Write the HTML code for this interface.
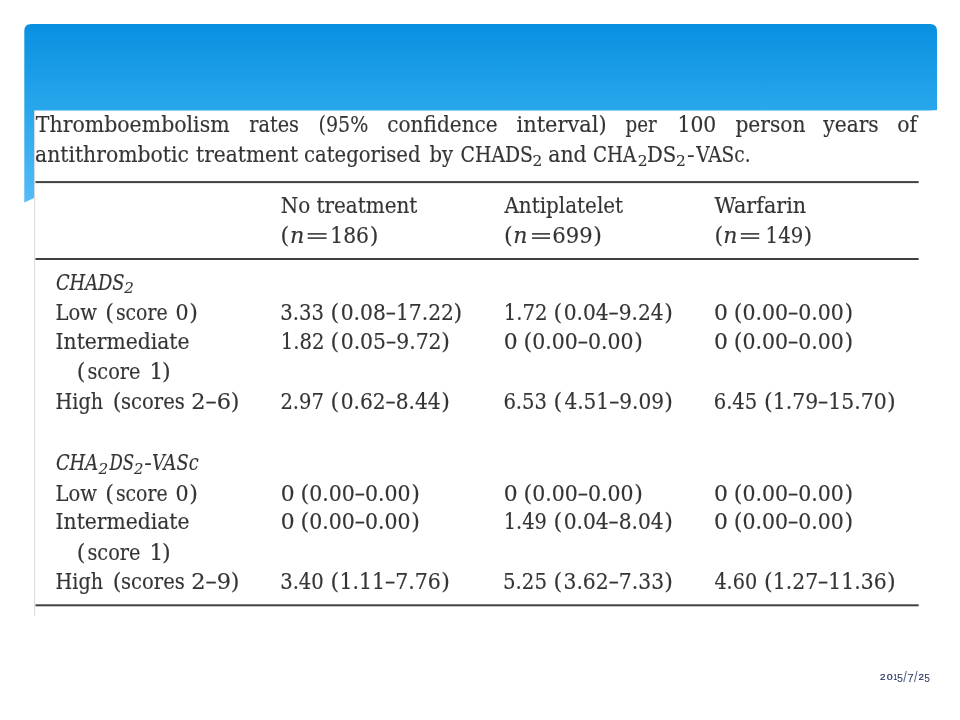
<!DOCTYPE html>
<html lang="en"><head><meta charset="utf-8"><title>Thromboembolism rates</title>
<style>
html,body{margin:0;padding:0;background:#fff;width:960px;height:720px;overflow:hidden}
svg{display:block;position:absolute;left:0;top:0}
.tbl text{font-family:"DejaVu Serif","Liberation Serif",serif;font-stretch:condensed;fill:#343434;stroke:#343434;stroke-width:0.15px}
.tbl .eq{stroke:none;fill:#4a4a4a}
.tbl{filter:blur(0.4px)}
.tbl .i{font-style:italic}
.date{font-family:"Liberation Sans",sans-serif;fill:#1f2d5a}.date .s{stroke:#1f2d5a;stroke-width:0.2px}.date .l{fill:#56638a}
</style></head><body>
<svg width="960" height="720" viewBox="0 0 960 720">
<defs>
<linearGradient id="g" gradientUnits="userSpaceOnUse" x1="0" y1="24" x2="0" y2="203">
<stop offset="0" stop-color="#0890e0"/><stop offset="0.48" stop-color="#29a7ec"/><stop offset="1" stop-color="#54bcf8"/>
</linearGradient>
</defs>
<rect width="960" height="720" fill="#fff"/>
<path d="M24.3 31 Q24.3 24 31.3 24 L930 24 Q937 24 937 31 L937 110.3 L34 198 L24.3 202.5 Z" fill="url(#g)"/>
<rect x="34.4" y="110.5" width="906" height="505.5" fill="#fff"/>
<rect x="34.2" y="110.5" width="1" height="505.5" fill="#d9d9d9"/>
<g fill="#404040">
<rect x="35.5" y="181.1" width="883.2" height="2"/>
<rect x="35.5" y="258.0" width="883.2" height="2"/>
<rect x="35.5" y="604.3" width="883.2" height="2"/>
</g>
<g class="tbl">
<text font-size="22.5"><tspan y="131.8" x="35.8" textLength="193.8" lengthAdjust="spacingAndGlyphs">Thromboembolism</tspan> <tspan y="131.8" x="249.3" textLength="49.7" lengthAdjust="spacingAndGlyphs">rates</tspan> <tspan y="131.8" x="318.5" textLength="49.9" lengthAdjust="spacingAndGlyphs">(95%</tspan> <tspan y="131.8" x="387.3" textLength="110.4" lengthAdjust="spacingAndGlyphs">confidence</tspan> <tspan y="131.8" x="516.5" textLength="90.1" lengthAdjust="spacingAndGlyphs">interval)</tspan> <tspan y="131.8" x="625.5" textLength="31.2" lengthAdjust="spacingAndGlyphs">per</tspan> <tspan y="131.8" x="677.5" textLength="38.8" lengthAdjust="spacingAndGlyphs">100</tspan> <tspan y="131.8" x="735.4" textLength="70.1" lengthAdjust="spacingAndGlyphs">person</tspan> <tspan y="131.8" x="823.3" textLength="55.4" lengthAdjust="spacingAndGlyphs">years</tspan> <tspan y="131.8" x="897.3" textLength="19.8" lengthAdjust="spacingAndGlyphs">of</tspan></text>
<text font-size="22.5"><tspan y="162.3" x="35.0" textLength="153.9" lengthAdjust="spacingAndGlyphs">antithrombotic</tspan> <tspan y="162.3" x="196.1" textLength="102.0" lengthAdjust="spacingAndGlyphs">treatment</tspan> <tspan y="162.3" x="304.0" textLength="116.5" lengthAdjust="spacingAndGlyphs">categorised</tspan> <tspan y="162.3" x="429.4" textLength="23.6" lengthAdjust="spacingAndGlyphs">by</tspan> <tspan y="162.3" x="460.6" textLength="72.4" lengthAdjust="spacingAndGlyphs">CHADS</tspan><tspan y="165.8" x="532.4" textLength="9.8" lengthAdjust="spacingAndGlyphs" font-size="15.3">2</tspan> <tspan y="162.3" x="548.3" textLength="38.3" lengthAdjust="spacingAndGlyphs">and</tspan> <tspan y="162.3" x="593.0" textLength="43.1" lengthAdjust="spacingAndGlyphs">CHA</tspan><tspan y="165.8" x="637.8" textLength="9.8" lengthAdjust="spacingAndGlyphs" font-size="15.3">2</tspan><tspan y="162.3" x="646.9" textLength="29.2" lengthAdjust="spacingAndGlyphs">DS</tspan><tspan y="165.8" x="676.1" textLength="9.8" lengthAdjust="spacingAndGlyphs" font-size="15.3">2</tspan><tspan y="162.3" x="686.9" textLength="7.7" lengthAdjust="spacingAndGlyphs">-</tspan><tspan y="162.3" x="696.2" textLength="54.4" lengthAdjust="spacingAndGlyphs">VASc.</tspan></text>
<text x="280.7" y="213.2" textLength="136.7" lengthAdjust="spacingAndGlyphs" font-size="22.2">No treatment</text>
<text x="504.4" y="213.2" textLength="118.7" lengthAdjust="spacingAndGlyphs" font-size="22.2">Antiplatelet</text>
<text x="714.6" y="213.2" textLength="91.6" lengthAdjust="spacingAndGlyphs" font-size="22.2">Warfarin</text>
<text y="243.3" font-size="22.2"><tspan x="280.6" textLength="8.7" lengthAdjust="spacingAndGlyphs">(</tspan><tspan x="290.1" textLength="14.4" lengthAdjust="spacingAndGlyphs" class="i">n</tspan> <tspan x="304.4" textLength="25.3" lengthAdjust="spacingAndGlyphs" class="eq">=</tspan> <tspan x="330.3" textLength="38.7" lengthAdjust="spacingAndGlyphs">186</tspan><tspan x="369.8" textLength="8.7" lengthAdjust="spacingAndGlyphs">)</tspan></text>
<text y="243.3" font-size="22.2"><tspan x="504.0" textLength="8.7" lengthAdjust="spacingAndGlyphs">(</tspan><tspan x="513.2" textLength="14.2" lengthAdjust="spacingAndGlyphs" class="i">n</tspan> <tspan x="529.0" textLength="24.1" lengthAdjust="spacingAndGlyphs" class="eq">=</tspan> <tspan x="552.3" textLength="40.4" lengthAdjust="spacingAndGlyphs">699</tspan><tspan x="593.2" textLength="8.7" lengthAdjust="spacingAndGlyphs">)</tspan></text>
<text y="243.3" font-size="22.2"><tspan x="714.4" textLength="8.7" lengthAdjust="spacingAndGlyphs">(</tspan><tspan x="723.2" textLength="14.2" lengthAdjust="spacingAndGlyphs" class="i">n</tspan> <tspan x="737.7" textLength="24.6" lengthAdjust="spacingAndGlyphs" class="eq">=</tspan> <tspan x="765.6" textLength="37.7" lengthAdjust="spacingAndGlyphs">149</tspan><tspan x="803.6" textLength="8.7" lengthAdjust="spacingAndGlyphs">)</tspan></text>
<text font-size="22.2"><tspan y="289.8" x="55.9" textLength="68.7" lengthAdjust="spacingAndGlyphs" class="i">CHADS</tspan><tspan y="293.3" x="124.3" textLength="9.6" lengthAdjust="spacingAndGlyphs" font-size="15.1" class="i">2</tspan></text>
<text font-size="22.2"><tspan y="320.3" x="55.6" textLength="41.5" lengthAdjust="spacingAndGlyphs">Low</tspan> <tspan y="320.3" x="105.3" textLength="8.7" lengthAdjust="spacingAndGlyphs">(</tspan><tspan y="320.3" x="115.9" textLength="51.7" lengthAdjust="spacingAndGlyphs">score</tspan> <tspan y="320.3" x="175.5" textLength="13.1" lengthAdjust="spacingAndGlyphs">0</tspan><tspan y="320.3" x="189.2" textLength="8.7" lengthAdjust="spacingAndGlyphs">)</tspan></text>
<text font-size="22.2"><tspan y="349.2" x="55.6" textLength="133.9" lengthAdjust="spacingAndGlyphs">Intermediate</tspan></text>
<text font-size="22.2"><tspan y="379.3" x="76.8" textLength="8.7" lengthAdjust="spacingAndGlyphs">(</tspan><tspan y="379.3" x="87.4" textLength="53.1" lengthAdjust="spacingAndGlyphs">score</tspan> <tspan y="379.3" x="149.4" textLength="13.7" lengthAdjust="spacingAndGlyphs">1</tspan><tspan y="379.3" x="161.9" textLength="8.7" lengthAdjust="spacingAndGlyphs">)</tspan></text>
<text font-size="22.2"><tspan y="409.2" x="55.6" textLength="47.4" lengthAdjust="spacingAndGlyphs">High</tspan> <tspan y="409.2" x="112.8" textLength="8.7" lengthAdjust="spacingAndGlyphs">(</tspan><tspan y="409.2" x="121.1" textLength="63.7" lengthAdjust="spacingAndGlyphs">scores</tspan> <tspan y="409.2" x="191.2" textLength="39.8" lengthAdjust="spacingAndGlyphs">2–6</tspan><tspan y="409.2" x="230.8" textLength="8.7" lengthAdjust="spacingAndGlyphs">)</tspan></text>
<text font-size="22.2"><tspan y="320.3" x="280.2" textLength="43.7" lengthAdjust="spacingAndGlyphs">3.33</tspan> <tspan y="320.3" x="330.6" textLength="8.7" lengthAdjust="spacingAndGlyphs">(</tspan><tspan y="320.3" x="340.7" textLength="113.3" lengthAdjust="spacingAndGlyphs">0.08–17.22</tspan><tspan y="320.3" x="453.6" textLength="8.7" lengthAdjust="spacingAndGlyphs">)</tspan></text>
<text font-size="22.2"><tspan y="320.3" x="503.7" textLength="43.7" lengthAdjust="spacingAndGlyphs">1.72</tspan> <tspan y="320.3" x="553.6" textLength="8.7" lengthAdjust="spacingAndGlyphs">(</tspan><tspan y="320.3" x="563.7" textLength="99.9" lengthAdjust="spacingAndGlyphs">0.04–9.24</tspan><tspan y="320.3" x="664.2" textLength="8.7" lengthAdjust="spacingAndGlyphs">)</tspan></text>
<text font-size="22.2"><tspan y="320.3" x="714.1" textLength="13.9" lengthAdjust="spacingAndGlyphs">0</tspan> <tspan y="320.3" x="733.7" textLength="8.7" lengthAdjust="spacingAndGlyphs">(</tspan><tspan y="320.3" x="742.5" textLength="101.3" lengthAdjust="spacingAndGlyphs">0.00–0.00</tspan><tspan y="320.3" x="844.6" textLength="8.7" lengthAdjust="spacingAndGlyphs">)</tspan></text>
<text font-size="22.2"><tspan y="349.2" x="280.7" textLength="43.7" lengthAdjust="spacingAndGlyphs">1.82</tspan> <tspan y="349.2" x="330.6" textLength="8.7" lengthAdjust="spacingAndGlyphs">(</tspan><tspan y="349.2" x="340.7" textLength="100.9" lengthAdjust="spacingAndGlyphs">0.05–9.72</tspan><tspan y="349.2" x="441.2" textLength="8.7" lengthAdjust="spacingAndGlyphs">)</tspan></text>
<text font-size="22.2"><tspan y="349.2" x="503.8" textLength="13.9" lengthAdjust="spacingAndGlyphs">0</tspan> <tspan y="349.2" x="523.4" textLength="8.7" lengthAdjust="spacingAndGlyphs">(</tspan><tspan y="349.2" x="532.2" textLength="101.3" lengthAdjust="spacingAndGlyphs">0.00–0.00</tspan><tspan y="349.2" x="634.3" textLength="8.7" lengthAdjust="spacingAndGlyphs">)</tspan></text>
<text font-size="22.2"><tspan y="349.2" x="714.1" textLength="13.9" lengthAdjust="spacingAndGlyphs">0</tspan> <tspan y="349.2" x="733.7" textLength="8.7" lengthAdjust="spacingAndGlyphs">(</tspan><tspan y="349.2" x="742.5" textLength="101.3" lengthAdjust="spacingAndGlyphs">0.00–0.00</tspan><tspan y="349.2" x="844.6" textLength="8.7" lengthAdjust="spacingAndGlyphs">)</tspan></text>
<text font-size="22.2"><tspan y="409.2" x="280.4" textLength="43.5" lengthAdjust="spacingAndGlyphs">2.97</tspan> <tspan y="409.2" x="330.6" textLength="8.7" lengthAdjust="spacingAndGlyphs">(</tspan><tspan y="409.2" x="340.7" textLength="99.9" lengthAdjust="spacingAndGlyphs">0.62–8.44</tspan><tspan y="409.2" x="441.2" textLength="8.7" lengthAdjust="spacingAndGlyphs">)</tspan></text>
<text font-size="22.2"><tspan y="409.2" x="503.4" textLength="43.6" lengthAdjust="spacingAndGlyphs">6.53</tspan> <tspan y="409.2" x="553.6" textLength="8.7" lengthAdjust="spacingAndGlyphs">(</tspan><tspan y="409.2" x="564.4" textLength="99.6" lengthAdjust="spacingAndGlyphs">4.51–9.09</tspan><tspan y="409.2" x="664.2" textLength="8.7" lengthAdjust="spacingAndGlyphs">)</tspan></text>
<text font-size="22.2"><tspan y="409.2" x="713.7" textLength="43.6" lengthAdjust="spacingAndGlyphs">6.45</tspan> <tspan y="409.2" x="763.9" textLength="8.7" lengthAdjust="spacingAndGlyphs">(</tspan><tspan y="409.2" x="772.8" textLength="113.8" lengthAdjust="spacingAndGlyphs">1.79–15.70</tspan><tspan y="409.2" x="886.9" textLength="8.7" lengthAdjust="spacingAndGlyphs">)</tspan></text>
<text font-size="22.2"><tspan y="470.0" x="55.9" textLength="42.2" lengthAdjust="spacingAndGlyphs" class="i">CHA</tspan><tspan y="473.5" x="98.6" textLength="9.7" lengthAdjust="spacingAndGlyphs" font-size="15.1" class="i">2</tspan><tspan y="470.0" x="109.5" textLength="24.6" lengthAdjust="spacingAndGlyphs" class="i">DS</tspan><tspan y="473.5" x="133.9" textLength="9.4" lengthAdjust="spacingAndGlyphs" font-size="15.1" class="i">2</tspan><tspan y="470.0" x="144.2" textLength="7.6" lengthAdjust="spacingAndGlyphs" class="i">-</tspan><tspan y="470.0" x="152.1" textLength="46.5" lengthAdjust="spacingAndGlyphs" class="i">VASc</tspan></text>
<text font-size="22.2"><tspan y="500.5" x="55.6" textLength="41.5" lengthAdjust="spacingAndGlyphs">Low</tspan> <tspan y="500.5" x="105.3" textLength="8.7" lengthAdjust="spacingAndGlyphs">(</tspan><tspan y="500.5" x="115.9" textLength="51.7" lengthAdjust="spacingAndGlyphs">score</tspan> <tspan y="500.5" x="175.5" textLength="13.1" lengthAdjust="spacingAndGlyphs">0</tspan><tspan y="500.5" x="189.2" textLength="8.7" lengthAdjust="spacingAndGlyphs">)</tspan></text>
<text font-size="22.2"><tspan y="529.4" x="55.6" textLength="133.9" lengthAdjust="spacingAndGlyphs">Intermediate</tspan></text>
<text font-size="22.2"><tspan y="559.5" x="76.8" textLength="8.7" lengthAdjust="spacingAndGlyphs">(</tspan><tspan y="559.5" x="87.4" textLength="53.1" lengthAdjust="spacingAndGlyphs">score</tspan> <tspan y="559.5" x="149.4" textLength="13.7" lengthAdjust="spacingAndGlyphs">1</tspan><tspan y="559.5" x="161.9" textLength="8.7" lengthAdjust="spacingAndGlyphs">)</tspan></text>
<text font-size="22.2"><tspan y="589.4" x="55.6" textLength="47.4" lengthAdjust="spacingAndGlyphs">High</tspan> <tspan y="589.4" x="112.8" textLength="8.7" lengthAdjust="spacingAndGlyphs">(</tspan><tspan y="589.4" x="121.1" textLength="63.7" lengthAdjust="spacingAndGlyphs">scores</tspan> <tspan y="589.4" x="191.2" textLength="39.9" lengthAdjust="spacingAndGlyphs">2–9</tspan><tspan y="589.4" x="230.8" textLength="8.7" lengthAdjust="spacingAndGlyphs">)</tspan></text>
<text font-size="22.2"><tspan y="500.5" x="280.8" textLength="13.9" lengthAdjust="spacingAndGlyphs">0</tspan> <tspan y="500.5" x="300.4" textLength="8.7" lengthAdjust="spacingAndGlyphs">(</tspan><tspan y="500.5" x="309.2" textLength="101.3" lengthAdjust="spacingAndGlyphs">0.00–0.00</tspan><tspan y="500.5" x="411.3" textLength="8.7" lengthAdjust="spacingAndGlyphs">)</tspan></text>
<text font-size="22.2"><tspan y="500.5" x="503.8" textLength="13.9" lengthAdjust="spacingAndGlyphs">0</tspan> <tspan y="500.5" x="523.4" textLength="8.7" lengthAdjust="spacingAndGlyphs">(</tspan><tspan y="500.5" x="532.2" textLength="101.3" lengthAdjust="spacingAndGlyphs">0.00–0.00</tspan><tspan y="500.5" x="634.3" textLength="8.7" lengthAdjust="spacingAndGlyphs">)</tspan></text>
<text font-size="22.2"><tspan y="500.5" x="714.1" textLength="13.9" lengthAdjust="spacingAndGlyphs">0</tspan> <tspan y="500.5" x="733.7" textLength="8.7" lengthAdjust="spacingAndGlyphs">(</tspan><tspan y="500.5" x="742.5" textLength="101.3" lengthAdjust="spacingAndGlyphs">0.00–0.00</tspan><tspan y="500.5" x="844.6" textLength="8.7" lengthAdjust="spacingAndGlyphs">)</tspan></text>
<text font-size="22.2"><tspan y="529.4" x="280.8" textLength="13.9" lengthAdjust="spacingAndGlyphs">0</tspan> <tspan y="529.4" x="300.4" textLength="8.7" lengthAdjust="spacingAndGlyphs">(</tspan><tspan y="529.4" x="309.2" textLength="101.3" lengthAdjust="spacingAndGlyphs">0.00–0.00</tspan><tspan y="529.4" x="411.3" textLength="8.7" lengthAdjust="spacingAndGlyphs">)</tspan></text>
<text font-size="22.2"><tspan y="529.4" x="503.7" textLength="43.1" lengthAdjust="spacingAndGlyphs">1.49</tspan> <tspan y="529.4" x="553.6" textLength="8.7" lengthAdjust="spacingAndGlyphs">(</tspan><tspan y="529.4" x="563.7" textLength="99.9" lengthAdjust="spacingAndGlyphs">0.04–8.04</tspan><tspan y="529.4" x="664.2" textLength="8.7" lengthAdjust="spacingAndGlyphs">)</tspan></text>
<text font-size="22.2"><tspan y="529.4" x="714.1" textLength="13.9" lengthAdjust="spacingAndGlyphs">0</tspan> <tspan y="529.4" x="733.7" textLength="8.7" lengthAdjust="spacingAndGlyphs">(</tspan><tspan y="529.4" x="742.5" textLength="101.3" lengthAdjust="spacingAndGlyphs">0.00–0.00</tspan><tspan y="529.4" x="844.6" textLength="8.7" lengthAdjust="spacingAndGlyphs">)</tspan></text>
<text font-size="22.2"><tspan y="589.4" x="280.2" textLength="43.6" lengthAdjust="spacingAndGlyphs">3.40</tspan> <tspan y="589.4" x="330.6" textLength="8.7" lengthAdjust="spacingAndGlyphs">(</tspan><tspan y="589.4" x="339.5" textLength="101.4" lengthAdjust="spacingAndGlyphs">1.11–7.76</tspan><tspan y="589.4" x="441.2" textLength="8.7" lengthAdjust="spacingAndGlyphs">)</tspan></text>
<text font-size="22.2"><tspan y="589.4" x="503.0" textLength="44.0" lengthAdjust="spacingAndGlyphs">5.25</tspan> <tspan y="589.4" x="553.6" textLength="8.7" lengthAdjust="spacingAndGlyphs">(</tspan><tspan y="589.4" x="563.5" textLength="100.6" lengthAdjust="spacingAndGlyphs">3.62–7.33</tspan><tspan y="589.4" x="664.2" textLength="8.7" lengthAdjust="spacingAndGlyphs">)</tspan></text>
<text font-size="22.2"><tspan y="589.4" x="714.4" textLength="42.7" lengthAdjust="spacingAndGlyphs">4.60</tspan> <tspan y="589.4" x="763.9" textLength="8.7" lengthAdjust="spacingAndGlyphs">(</tspan><tspan y="589.4" x="772.8" textLength="113.8" lengthAdjust="spacingAndGlyphs">1.27–11.36</tspan><tspan y="589.4" x="886.9" textLength="8.7" lengthAdjust="spacingAndGlyphs">)</tspan></text>
</g>
<text class="date"><tspan class="s" x="880.1" y="679.8" font-size="8.7" textLength="5.5" lengthAdjust="spacingAndGlyphs">2</tspan><tspan class="s" x="886.8" y="679.8" font-size="8.7" textLength="5.9" lengthAdjust="spacingAndGlyphs">0</tspan><tspan class="s" x="893.4" y="679.8" font-size="8.7" textLength="3.6" lengthAdjust="spacingAndGlyphs">1</tspan><tspan x="897.1" y="681.7" font-size="10.8" textLength="6.0" lengthAdjust="spacingAndGlyphs">5</tspan><tspan class="l" x="903.3" y="681.6" font-size="14.6" textLength="3.6" lengthAdjust="spacingAndGlyphs">/</tspan><tspan x="907.2" y="681.7" font-size="10.8" textLength="6.4" lengthAdjust="spacingAndGlyphs">7</tspan><tspan class="l" x="913.9" y="681.6" font-size="14.6" textLength="3.5" lengthAdjust="spacingAndGlyphs">/</tspan><tspan class="s" x="918.4" y="679.8" font-size="8.7" textLength="5.5" lengthAdjust="spacingAndGlyphs">2</tspan><tspan x="924.3" y="681.7" font-size="10.8" textLength="5.7" lengthAdjust="spacingAndGlyphs">5</tspan></text>
</svg>
</body></html>
